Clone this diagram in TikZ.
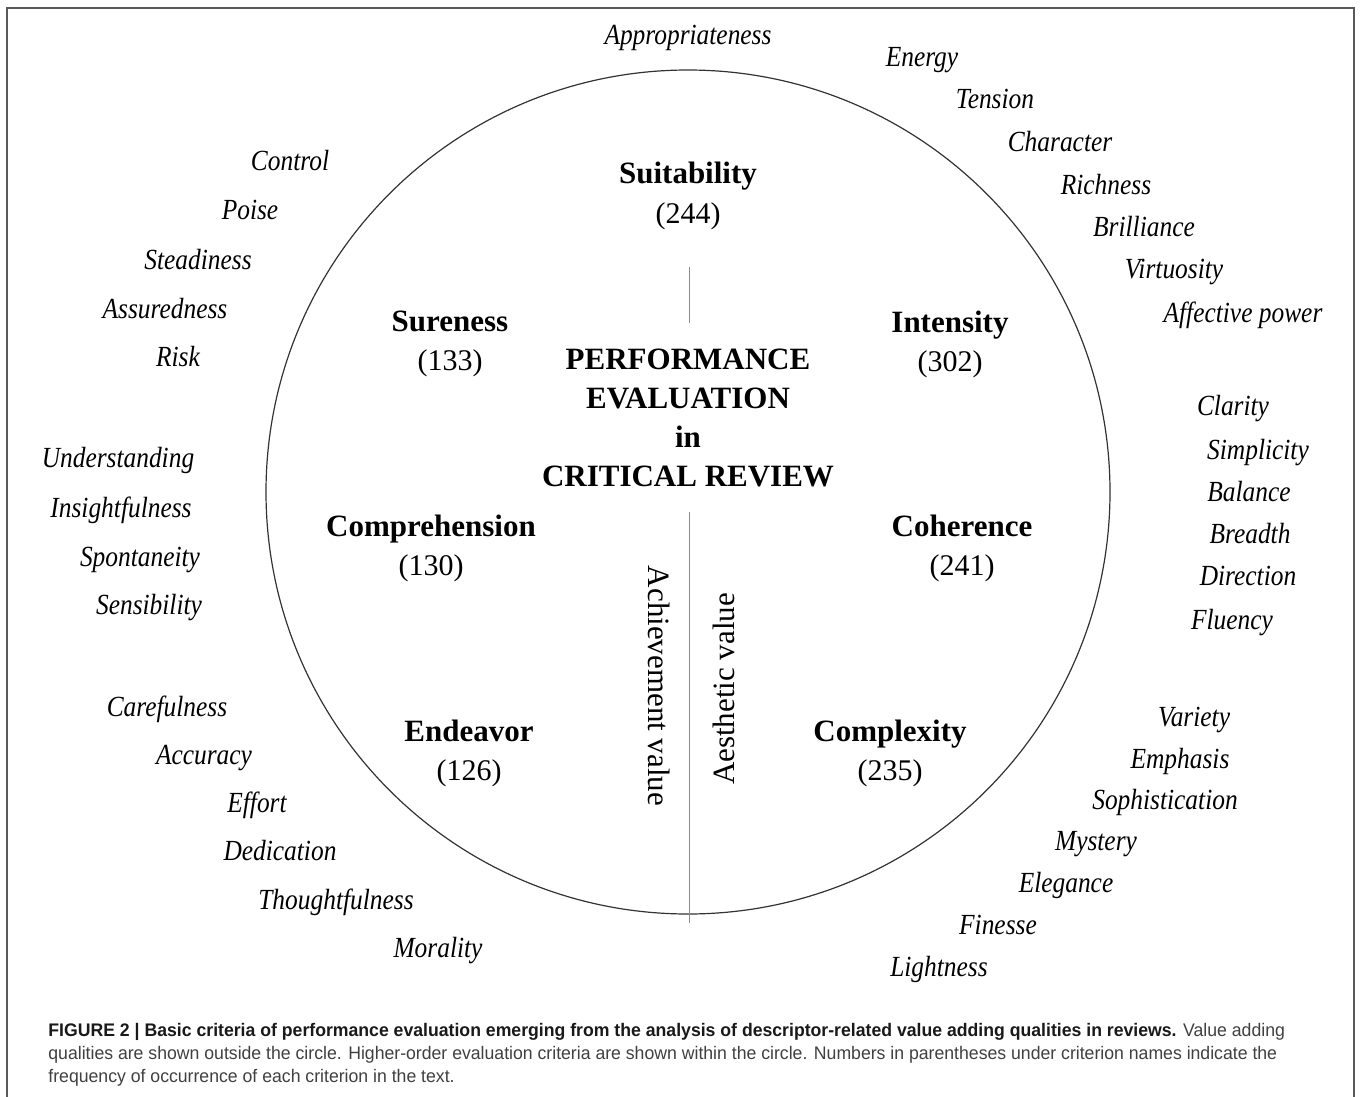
\documentclass[tikz,border=0pt]{standalone}
\usepackage{fontspec}
\setmainfont{Liberation Serif}
\newfontfamily\qualfont[FakeStretch=0.87,UprightFont=* Italic]{Liberation Serif}
\newfontfamily\capfont[FakeStretch=0.97]{Liberation Sans}

\begin{document}
\begin{tikzpicture}
  [x=.5pt,y=-.5pt,every node/.style={inner sep=0pt},
   qual/.style={anchor=base,font=\qualfont\fontsize{14.6}{17}\selectfont},
   crit/.style={anchor=base,font=\bfseries\fontsize{15.5}{18}\selectfont},
   freq/.style={anchor=base,font=\fontsize{15}{18}\selectfont},
   valuelabel/.style={font=\fontsize{15.5}{18}\selectfont},
   capline/.style={anchor=base west,font=\capfont\fontsize{9.1}{11}\selectfont,text=black!75}]
  \useasboundingbox (0,0) rectangle (1360,1097);
  \draw[black!65,line width=.9pt] (7,1097) -- (7,8) -- (1354,8) -- (1354,1097);

  % circle and dividing line
  \draw[black!80,line width=.6pt] (688,492) circle [radius=422];
  \coordinate (ltop) at (689,267);
  \coordinate (lmid) at (689,323);
  \coordinate (lbot) at (689,512);
  \coordinate (lend) at (689,923);
  \draw[black!45,line width=.5pt] (ltop) -- (lmid);
  \draw[black!45,line width=.5pt] (lbot) -- (lend);

  % criteria
  \foreach \n/\x/\y/\t/\f in {suit/688/184/Suitability/244,sure/450/331/Sureness/133,
      inten/950/332/Intensity/302,compr/431/536/Comprehension/130,coher/962/536/Coherence/241,
      endea/469/741/Endeavor/126,compl/890/741/Complexity/235}
  {
    \node[crit] (\n) at (\x,\y) {\t};
    \node[freq] (\n-f) at (\x,\y+39) {(\f)};
  }

  \node[crit,anchor=center,align=center,font=\bfseries\fontsize{15.5}{19.5}\selectfont]
    (title) at (688,418) {PERFORMANCE\\EVALUATION\\in\\CRITICAL REVIEW};

  \node[valuelabel,rotate=-90] (achiev) at (659,686) {Achievement value};
  \node[valuelabel,rotate=90] (aesth) at (724,689) {Aesthetic value};

  % qualities
  \node[qual] (appr) at (688,45) {Appropriateness};
  \node[qual] (energy) at (922,67) {Energy};
  \node[qual] (tension) at (995,109) {Tension};
  \node[qual] (charac) at (1060,151) {Character};
  \node[qual] (rich) at (1106,194) {Richness};
  \node[qual] (brill) at (1144,236) {Brilliance};
  \node[qual] (virt) at (1174,278) {Virtuosity};
  \node[qual] (affect) at (1243,322) {Affective power};
  \node[qual] (clar) at (1233,415) {Clarity};
  \node[qual] (simp) at (1258,459) {Simplicity};
  \node[qual] (bal) at (1249,501) {Balance};
  \node[qual] (bread) at (1250,543) {Breadth};
  \node[qual] (direc) at (1248,585) {Direction};
  \node[qual] (flu) at (1232,629) {Fluency};
  \node[qual] (vari) at (1194,726) {Variety};
  \node[qual] (emph) at (1180,768) {Emphasis};
  \node[qual] (soph) at (1165,809) {Sophistication};
  \node[qual] (myst) at (1096,850) {Mystery};
  \node[qual] (eleg) at (1066,892) {Elegance};
  \node[qual] (fin) at (998,934) {Finesse};
  \node[qual] (light) at (939,976) {Lightness};
  \node[qual] (control) at (290,170) {Control};
  \node[qual] (poise) at (250,220) {Poise};
  \node[qual] (stead) at (198,269) {Steadiness};
  \node[qual] (assur) at (165,318) {Assuredness};
  \node[qual] (risk) at (178,366) {Risk};
  \node[qual] (under) at (118,467) {Understanding};
  \node[qual] (insig) at (121,517) {Insightfulness};
  \node[qual] (spont) at (140,566) {Spontaneity};
  \node[qual] (sensi) at (149,614) {Sensibility};
  \node[qual] (care) at (167,716) {Carefulness};
  \node[qual] (accu) at (204,764) {Accuracy};
  \node[qual] (effort) at (257,812) {Effort};
  \node[qual] (dedic) at (280,860) {Dedication};
  \node[qual] (thought) at (336,909) {Thoughtfulness};
  \node[qual] (moral) at (438,957) {Morality};

  % caption
  \node[capline] (cap1) at (48,1036) {\textbf{\color{black!90}FIGURE 2 | Basic criteria of performance evaluation emerging from the analysis of descriptor-related value adding qualities in reviews.} Value adding};
  \node[capline] (cap2) at (48,1059) {qualities are shown outside the circle. Higher-order evaluation criteria are shown within the circle. Numbers in parentheses under criterion names indicate the};
  \node[capline] (cap3) at (48,1082) {frequency of occurrence of each criterion in the text.};
\end{tikzpicture}
\end{document}
